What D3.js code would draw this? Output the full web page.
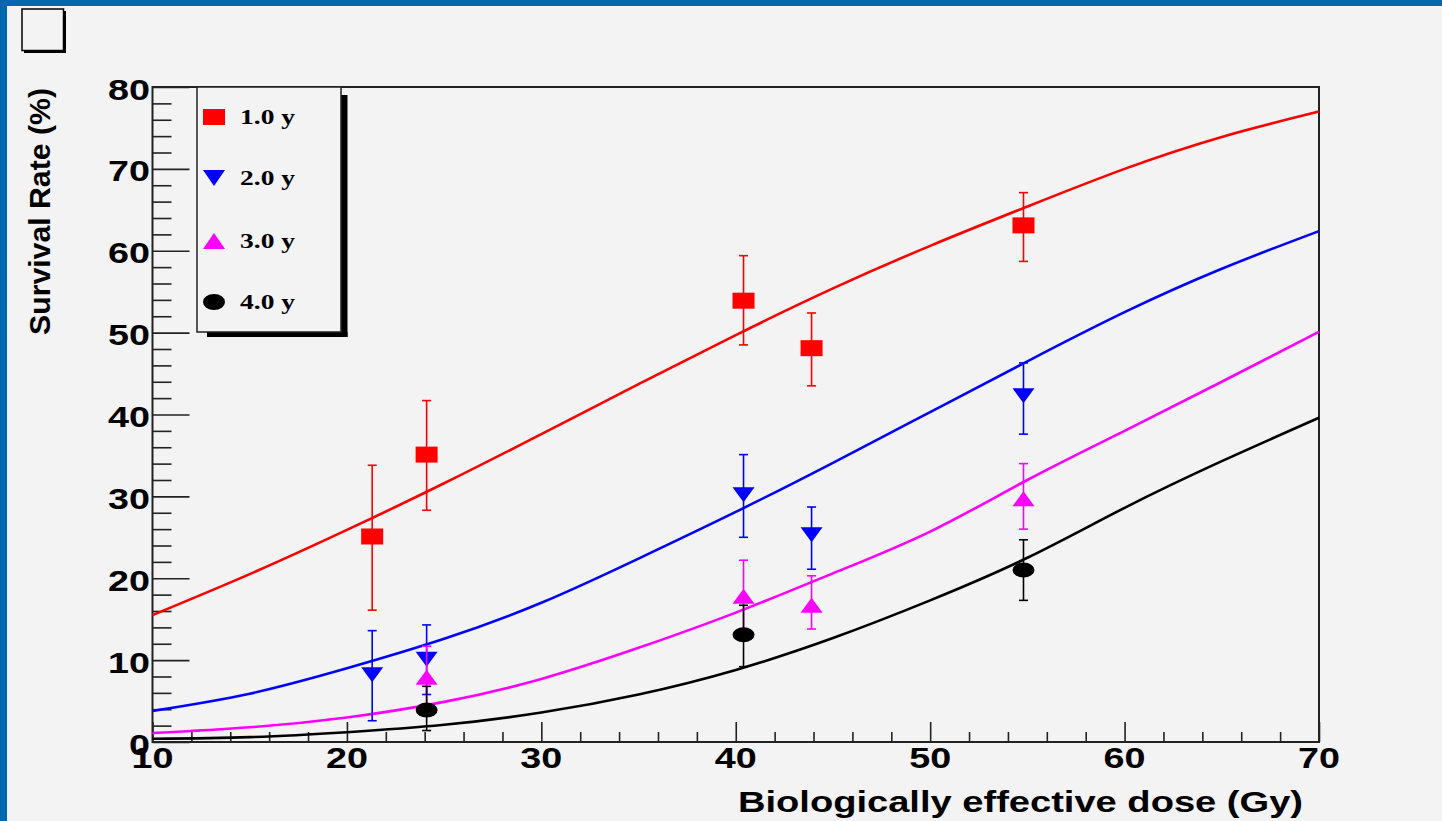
<!DOCTYPE html>
<html>
<head>
<meta charset="utf-8">
<script src="https://cdn.jsdelivr.net/npm/d3@7"></script>
<style>
  body { margin: 0; background: #0067b1; overflow: hidden; }
  svg { display: block; }
</style>
</head>
<body>
<svg id="chart" width="1442" height="821"></svg>
<script>
// fitted curves, read at every 5 Gy
const fitDose = [10, 15, 20, 25, 30, 35, 40, 45, 50, 55, 60, 65, 70];
const fit1y = [15.5, 20.5, 25.9, 31.6, 37.6, 43.7, 49.7, 55.4, 60.6, 65.4, 70.0, 73.9, 77.0];
const fit2y = [3.8, 5.9, 9.0, 12.6, 17.0, 22.4, 28.1, 34.1, 40.3, 46.5, 52.5, 57.8, 62.4];
const fit3y = [1.1, 1.8, 3.0, 4.9, 7.7, 11.5, 15.8, 20.6, 25.7, 32.0, 38.0, 44.0, 50.1];
const fit4y = [0.4, 0.6, 1.2, 2.1, 3.6, 5.8, 8.8, 12.7, 17.3, 22.5, 28.6, 34.3, 39.6];

// measured points with error bars
const dose12 = [21.3, 24.1, 40.4, 43.9, 54.8];
const rate1 = [25.1, 35.1, 53.9, 48.1, 63.1];
const hi1 = [33.8, 41.7, 59.4, 52.4, 67.1];
const lo1 = [16.1, 28.3, 48.5, 43.5, 58.7];

const rate2 = [8.2, 10.1, 30.2, 25.3, 42.3];
const hi2 = [13.6, 14.3, 35.1, 28.7, 46.3];
const lo2 = [2.6, 5.8, 25.0, 21.1, 37.6];

const dose3 = [24.1, 40.4, 43.9, 54.8];
const rate3 = [7.9, 17.8, 16.7, 29.7];
const hi3 = [11.7, 22.2, 20.3, 34.0];
const lo3 = [4.5, 13.3, 13.8, 26.0];

const dose4 = [24.1, 40.4, 54.8];
const rate4 = [3.9, 13.1, 21.0];
const hi4 = [6.8, 16.7, 24.7];
const lo4 = [1.4, 9.2, 17.3];

const labels = ['1.0 y', '2.0 y', '3.0 y', '4.0 y'];
const colors = ['#ff0000', '#0000ff', '#ff00ff', '#000000'];
const shapes = ['square', 'down', 'up', 'circle'];

const xTicks = [10, 20, 30, 40, 50, 60, 70];
const yTicks = [0, 10, 20, 30, 40, 50, 60, 70, 80];

const svg = d3.select('#chart');
const plotL = 152.5, plotR = 1319, plotT = 87, plotB = 742;

const x = d3.scaleLinear().domain([10, 70]).range([plotL, plotR]);
const y = d3.scaleLinear().domain([0, 80]).range([plotB, plotT]);

// page background + little box
svg.append('rect').attr('x', 7).attr('y', 6).attr('width', 1435).attr('height', 815).attr('fill', '#f3f3f3');
svg.append('rect').attr('x', 24).attr('y', 11).attr('width', 42).attr('height', 42).attr('fill', '#000');
svg.append('rect').attr('x', 22).attr('y', 9).attr('width', 41.5).attr('height', 41.5)
   .attr('fill', '#f3f3f3').attr('stroke', '#000').attr('stroke-width', 1.5);

// axes (ticks only, labels drawn below)
const xAxis = d3.axisBottom(x).tickValues(xTicks).tickSize(-20).tickFormat('');
const xMinor = d3.axisBottom(x).tickValues(d3.range(12, 70, 2).filter(v => v % 10)).tickSize(-10).tickFormat('');
const yAxis = d3.axisLeft(y).tickValues(yTicks).tickSize(-37).tickFormat('');
const yMinor = d3.axisLeft(y).tickValues(d3.range(2, 80, 2).filter(v => v % 10)).tickSize(-19).tickFormat('');

[xAxis, xMinor].forEach(a => {
  svg.append('g').attr('transform', 'translate(0,' + plotB + ')').call(a)
     .call(g => g.select('.domain').remove())
     .selectAll('line').attr('stroke', '#222').attr('stroke-width', 1.6);
});
[yAxis, yMinor].forEach(a => {
  svg.append('g').attr('transform', 'translate(' + plotL + ',0)').call(a)
     .call(g => g.select('.domain').remove())
     .selectAll('line').attr('stroke', '#222').attr('stroke-width', 1.6);
});

// frame
svg.append('rect').attr('x', plotL).attr('y', plotT).attr('width', plotR - plotL).attr('height', plotB - plotT)
   .attr('fill', 'none').attr('stroke', '#222').attr('stroke-width', 2);

// tick labels
const font = 'Liberation Sans, Arial, Helvetica, sans-serif';
svg.append('g').selectAll('g').data(xTicks).join('g')
   .attr('transform', d => 'translate(' + x(d) + ',768) scale(1.3,1)')
   .append('text').attr('text-anchor', 'middle')
   .attr('font-family', font).attr('font-weight', 'bold').attr('font-size', 29)
   .text(d => d);
svg.append('g').selectAll('g').data(yTicks).join('g')
   .attr('transform', d => 'translate(150,' + (y(d) + 12.5) + ') scale(1.3,1)')
   .append('text').attr('text-anchor', 'end')
   .attr('font-family', font).attr('font-weight', 'bold').attr('font-size', 29)
   .text(d => d);

// titles
svg.append('text').attr('x', 1303).attr('y', 812).attr('text-anchor', 'end')
   .attr('font-family', font).attr('font-weight', 'bold').attr('font-size', 29)
   .attr('textLength', 565).attr('lengthAdjust', 'spacingAndGlyphs')
   .text('Biologically effective dose (Gy)');
svg.append('text').attr('transform', 'translate(50,88) rotate(-90)').attr('text-anchor', 'end')
   .attr('font-family', font).attr('font-weight', 'bold').attr('font-size', 30)
   .attr('textLength', 247).attr('lengthAdjust', 'spacingAndGlyphs')
   .text('Survival Rate (%)');

// marker shapes
function marker(shape, w, h) {
  if (shape === 'square') return `M${-w/2},${-h/2}H${w/2}V${h/2}H${-w/2}Z`;
  if (shape === 'down') return `M${-w/2},${-h/2}L${w/2},${-h/2}L0,${h/2}Z`;
  if (shape === 'up') return `M${-w/2},${h/2}L${w/2},${h/2}L0,${-h/2}Z`;
  const rx = w / 2, ry = h / 2;
  return `M${-rx},0A${rx},${ry} 0 1,0 ${rx},0A${rx},${ry} 0 1,0 ${-rx},0Z`;
}

// curves
const fits = [fit1y, fit2y, fit3y, fit4y];
const line = d3.line().x(d => x(d[0])).y(d => y(d[1])).curve(d3.curveNatural);
fits.forEach((f, i) => {
  svg.append('path').datum(fitDose.map((d, j) => [d, f[j]]))
     .attr('d', line).attr('fill', 'none').attr('stroke', colors[i]).attr('stroke-width', 2.6);
});

// points with error bars
const series = [
  { dose: dose12, rate: rate1, hi: hi1, lo: lo1 },
  { dose: dose12, rate: rate2, hi: hi2, lo: lo2 },
  { dose: dose3, rate: rate3, hi: hi3, lo: lo3 },
  { dose: dose4, rate: rate4, hi: hi4, lo: lo4 }
];
series.forEach((s, i) => {
  const pts = s.dose.map((d, j) => ({ d: d, r: s.rate[j], hi: s.hi[j], lo: s.lo[j] }));
  const g = svg.append('g').attr('stroke', colors[i]).attr('stroke-width', 1.6);
  g.append('g').selectAll('line').data(pts).join('line')
   .attr('x1', p => x(p.d)).attr('x2', p => x(p.d))
   .attr('y1', p => y(p.hi)).attr('y2', p => y(p.lo));
  g.append('g').selectAll('line').data(pts).join('line')
   .attr('x1', p => x(p.d) - 4.5).attr('x2', p => x(p.d) + 4.5)
   .attr('y1', p => y(p.hi)).attr('y2', p => y(p.hi));
  g.append('g').selectAll('line').data(pts).join('line')
   .attr('x1', p => x(p.d) - 4.5).attr('x2', p => x(p.d) + 4.5)
   .attr('y1', p => y(p.lo)).attr('y2', p => y(p.lo));
  const h = shapes[i] === 'square' ? 16 : 15;
  svg.append('g').selectAll('path').data(pts).join('path')
     .attr('transform', p => 'translate(' + x(p.d) + ',' + y(p.r) + ')')
     .attr('d', marker(shapes[i], 22, h)).attr('fill', colors[i]);
});

// legend
svg.append('rect').attr('x', 341).attr('y', 95).attr('width', 6.5).attr('height', 242).attr('fill', '#000');
svg.append('rect').attr('x', 207).attr('y', 332).attr('width', 140.5).attr('height', 5).attr('fill', '#000');
svg.append('rect').attr('x', 197).attr('y', 87).attr('width', 144).attr('height', 245)
   .attr('fill', '#f3f3f3').attr('stroke', '#222').attr('stroke-width', 1.5);
const rowY = [117, 178, 241, 302];
const leg = svg.append('g').selectAll('g').data(labels).join('g')
   .attr('transform', (d, i) => 'translate(0,' + rowY[i] + ')');
leg.append('path').attr('transform', 'translate(214,0)')
   .attr('d', (d, i) => marker(shapes[i], 22, 16)).attr('fill', (d, i) => colors[i]);
leg.append('text').attr('x', 240).attr('y', 6.5)
   .attr('font-family', 'Liberation Serif, Times New Roman, serif').attr('font-weight', 'bold')
   .attr('font-size', 22).attr('textLength', 55).attr('lengthAdjust', 'spacingAndGlyphs')
   .text(d => d);
</script>
</body>
</html>
